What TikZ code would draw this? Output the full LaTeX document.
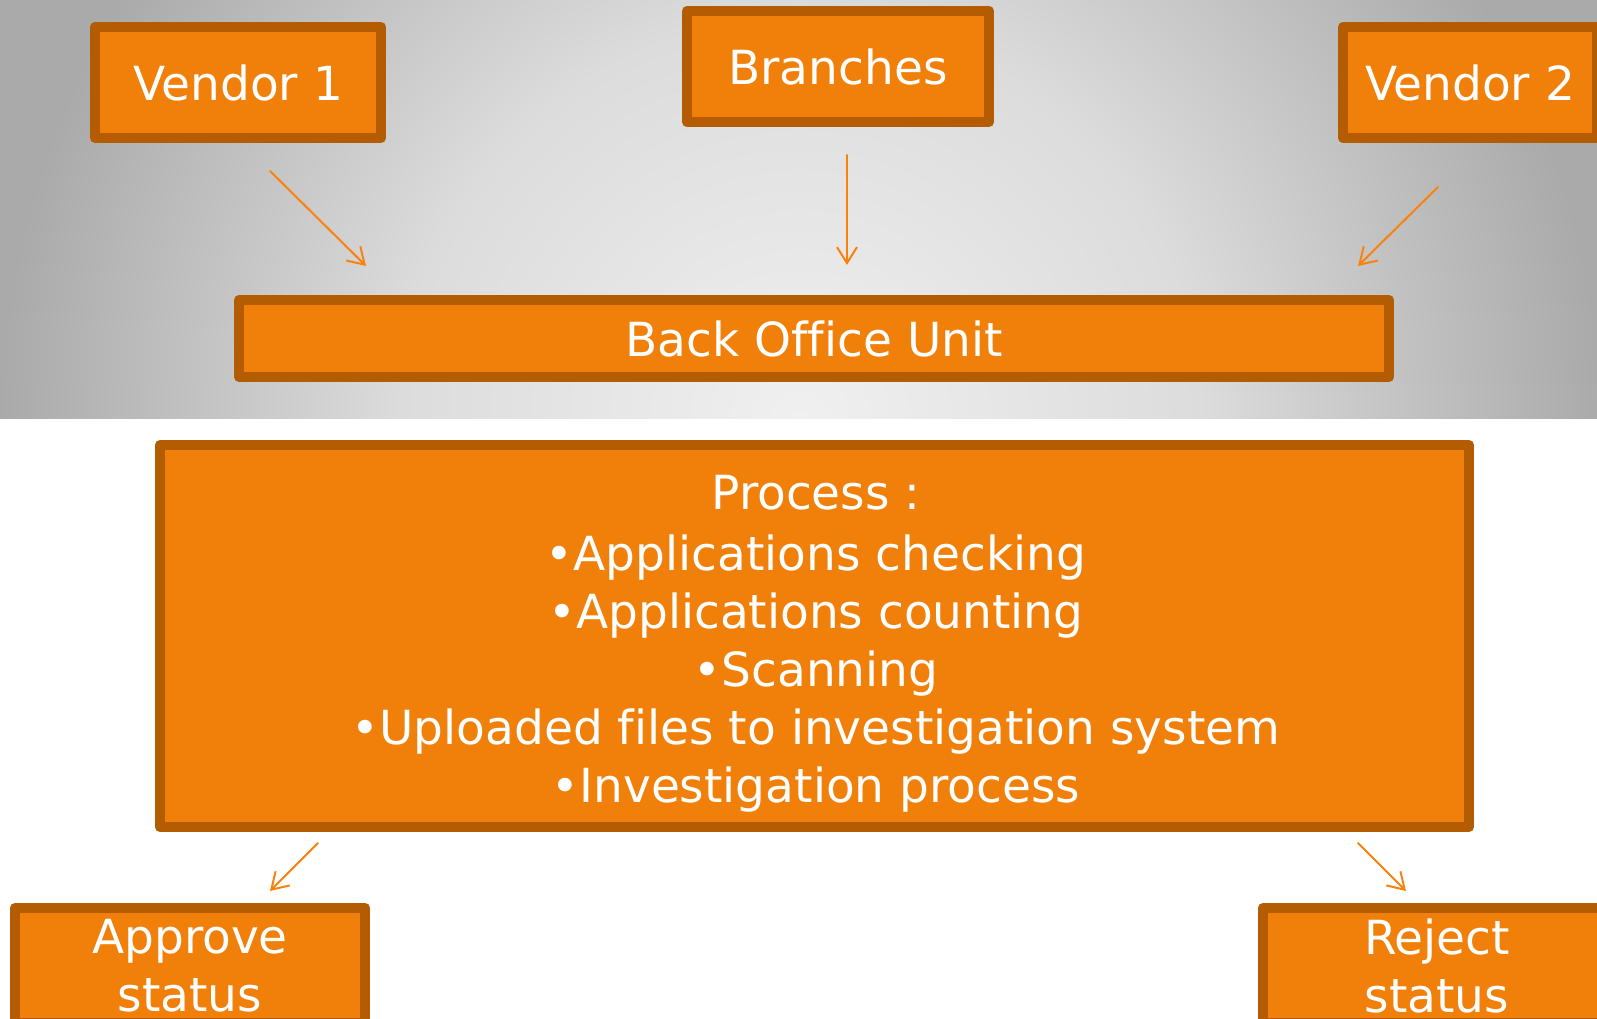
\documentclass[tikz,border=0pt]{standalone}
\usepackage{fontspec}
\setmainfont[Ligatures=NoCommon]{DejaVu Sans}
\usetikzlibrary{arrows.meta}
\definecolor{boxfill}{RGB}{240,128,10}
\definecolor{boxline}{RGB}{179,92,2}
\definecolor{arrowcol}{RGB}{250,130,12}
\definecolor{bandlight}{RGB}{240,240,240}
\definecolor{bandmid}{RGB}{220,220,220}
\definecolor{banddark}{RGB}{170,170,170}
\pgfdeclareradialshading{bandshade}{\pgfpoint{0bp}{0bp}}{color(0bp)=(bandlight); color(10bp)=(bandmid); color(20bp)=(banddark); color(50bp)=(banddark)}
\tikzset{
  box/.style={draw=boxline, fill=boxfill, line width=10pt, text=white, align=center, inner sep=0pt,
    font=\fontsize{47}{58}\selectfont},
  boxtext/.style={text=white, align=center, inner sep=0pt, font=\fontsize{47}{58}\selectfont},
  link/.style={->, draw=arrowcol, line width=2pt}
}
\begin{document}
\begin{tikzpicture}[x=1pt,y=-1pt,>={Straight Barb[length=16pt,width=20pt]},line join=round,line cap=round]
			\useasboundingbox (0,0) rectangle (1597,1019);
			\fill[white] (0,0) rectangle (1597,1019);
			\begin{scope}
				\clip (0,0) rectangle (1597,418);
				\shade[shading=bandshade] (800,420) circle (1000);
			\end{scope}
			\node[box, minimum width=286pt, minimum height=111pt] (vendorA) at (238,82.5) {Vendor 1};
			\node[box, minimum width=302pt, minimum height=111pt] (branches) at (838,66.5) {Branches};
			\node[box, minimum width=254pt, minimum height=111pt] (vendorB) at (1470,82.5) {Vendor 2};
			\node[box, minimum width=1150pt, minimum height=77pt] (backoffice) at (814,338.5) {Back Office Unit};
			\node[box, minimum width=1309pt, minimum height=382pt] (process) at (814.5,636) {};
			\node[boxtext] (processtext) at (816,644) {Process :\\[3pt]
				•Applications checking\\
				•Applications counting\\
				•Scanning\\
				•Uploaded files to investigation system\\
				•Investigation process};
			\node[box, minimum width=350pt, minimum height=115pt] (approve) at (190,965.5) {Approve\\status};
			\node[box, minimum width=348pt, minimum height=115pt] (reject) at (1437,965.5) {Reject\\status};
			\coordinate (vA1) at (270,171); \coordinate (vA2) at (366,266);
			\coordinate (br1) at (847,155); \coordinate (br2) at (847,265);
			\coordinate (vB1) at (1438,187); \coordinate (vB2) at (1358,266);
			\coordinate (ap1) at (318,843); \coordinate (ap2) at (270,891);
			\coordinate (rj1) at (1358,843); \coordinate (rj2) at (1406,891);
			\draw[link] (vA1)--(vA2);
			\draw[link] (br1)--(br2);
			\draw[link] (vB1)--(vB2);
			\draw[link] (ap1)--(ap2);
			\draw[link] (rj1)--(rj2);
	\end{tikzpicture}
\end{document}
